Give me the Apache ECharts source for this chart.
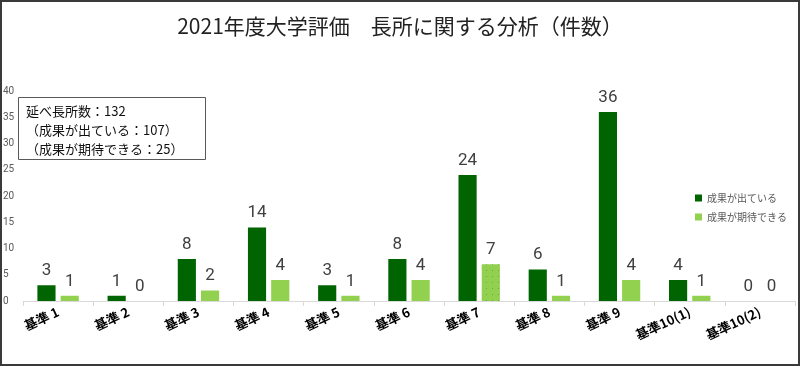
<!DOCTYPE html>
<html><head><meta charset="utf-8">
<script src="https://cdn.jsdelivr.net/npm/echarts@6/dist/echarts.min.js"></script>
<style>html,body{margin:0;padding:0;background:#fff}#c{width:800px;height:366px}</style>
</head><body><div id="c"></div>
<script>
const categories = ['基準 1','基準 2','基準 3','基準 4','基準 5','基準 6','基準 7','基準 8','基準 9','基準10(1)','基準10(2)'];
const seriesNames = ['成果が出ている','成果が期待できる'];
const achieved = [3,1,8,14,3,8,24,6,36,4,0];
const expected = [1,0,2,4,1,4,7,1,4,1,0];
const yTicks = {min:0, max:40, interval:5};
const noteLines = ['延べ長所数：132','（成果が出ている：107）','（成果が期待できる：25）'];

const chart = echarts.init(document.getElementById('c'));
const numFont = "'Liberation Sans Narrow','Roboto',sans-serif";
const jp = "'Noto Sans CJK JP','Noto Sans',sans-serif";
const dotDecal = {symbol:'rect',symbolSize:1,color:'rgba(40,120,20,0.4)',dashArrayX:[[1,5]],dashArrayY:[1,5],rotation:0};
const expectedData = expected.map((v,i)=> i===6 ? {value:v, itemStyle:{decal:dotDecal}} : v);
chart.setOption({
  animation:false,
  title:{text:'2021年度大学評価　長所に関する分析（件数）',left:'center',top:11,
    textStyle:{fontFamily:jp,fontSize:21,fontWeight:'normal',color:'#222'}},
  legend:{orient:'vertical',right:8,top:188,itemWidth:7,itemHeight:7,itemGap:9,
    icon:'rect',textStyle:{fontFamily:jp,fontSize:10,color:'#595959'}},
  grid:{left:23,right:5,top:91,bottom:65},
  xAxis:{type:'category',data:categories,
    axisLine:{lineStyle:{color:'#d9d9d9'}},axisTick:{show:true,lineStyle:{color:'#d9d9d9'}},
    axisLabel:{rotate:25,margin:10,interval:0,fontFamily:jp,fontSize:13,fontWeight:'bold',color:'#000'}},
  yAxis:{type:'value',min:yTicks.min,max:yTicks.max,interval:yTicks.interval,
    splitLine:{show:false},axisLine:{show:false},
    axisLabel:{align:'left',margin:20,fontFamily:'Roboto,sans-serif',fontSize:10,color:'#595959'}},
  series:[
    {name:seriesNames[0],type:'bar',data:achieved,barGap:'28%',barCategoryGap:'41%',
     itemStyle:{color:'#006400'},
     label:{show:true,position:'top',distance:6,fontFamily:numFont,fontSize:17,color:'#404040'}},
    {name:seriesNames[1],type:'bar',data:expectedData,
     itemStyle:{color:'#92D050'},
     label:{show:true,position:'top',distance:6,fontFamily:numFont,fontSize:17,color:'#404040'}}
  ],
  graphic:[
    {type:'rect',shape:{x:1,y:1,width:798,height:364},style:{fill:'none',stroke:'#3a3a3a',lineWidth:2},silent:true},
    {type:'rect',shape:{x:18.5,y:97.5,width:187,height:62},style:{fill:'#fff',stroke:'#595959',lineWidth:1},z:10},
    {type:'text',left:26,top:102,z:11,style:{text:noteLines.join('\n'),fontFamily:jp,fontSize:13,lineHeight:19,fill:'#111'}}
  ]
});
</script></body></html>
